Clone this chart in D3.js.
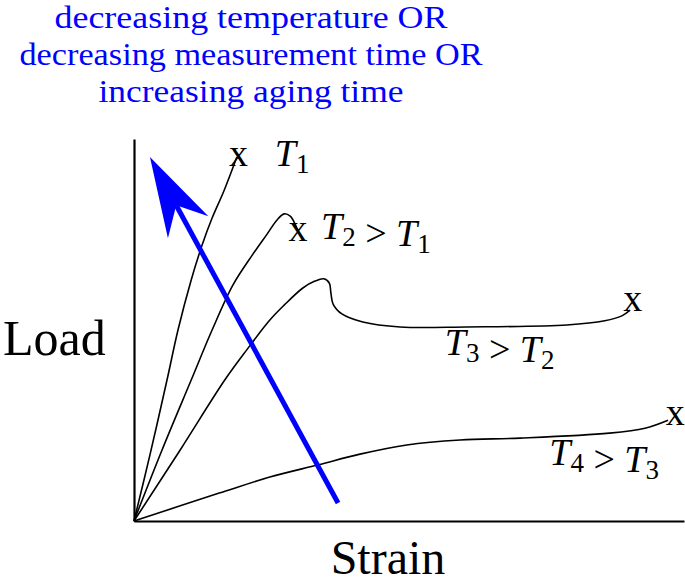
<!DOCTYPE html>
<html>
<head>
<meta charset="utf-8">
<script src="https://cdn.jsdelivr.net/npm/d3@7"></script>
<style>
  body { margin: 0; background: #fff; }
  svg text { font-family: "Liberation Serif", "DejaVu Serif", serif; }
</style>
</head>
<body>
<div class="chart-box"></div>
<script>
let width = 685;
let height = 585;

// curves: [strain, load] in arbitrary units (0..100)
let curveT1 = [[0,0],[2.9,17.3],[6.0,36.9],[8.0,50.0],[10.4,63.1],[12.4,72.3],[14.2,79.3],[16.4,86.6],[18.7,95.3]];
let curveT2 = [[0,0],[5.1,18.6],[10.4,36.9],[14.2,50.0],[18.0,61.8],[21.5,69.6],[24.2,75.1],[26.0,78.8],[27.3,80.4],[28.4,79.8],[29.3,77.7],[29.8,75.7]];
let curveT3 = [[0,0],[8.4,18.6],[16.5,36.9],[20.5,44.8],[24.7,52.6],[27.3,56.5],[30.7,61.0],[32.9,62.8],[34.5,63.4],[35.5,62.3],[35.8,59.7],[36.2,56.8],[37.8,54.2],[41.6,52.1],[48.4,50.8],[60.5,50.8],[78.7,51.3],[85.6,52.4],[88.7,53.7],[90.2,55.2]];
let curveT4 = [[0,0],[15.5,7.3],[24.7,11.5],[33.5,14.7],[41.1,17.5],[49.6,19.9],[59.3,21.2],[70.2,21.7],[86.4,23.0],[92.9,24.3],[97.1,26.4]];

let curves = [curveT1, curveT2, curveT3, curveT4];
let breakMarks = [[19.0,95.3],[29.8,75.7],[90.7,57.3],[98.4,27.5]];

let labelPos = [[25.6,92.9],[34.0,73.8],[56.5,43.5],[75.5,14.7]];
let labelParts = [
  [["T","1"]],
  [["T","2"],[" > ",""],["T","1"]],
  [["T","3"],[" > ",""],["T","2"]],
  [["T","4"],[" > ",""],["T","3"]]
];

let arrowFrom = [37.1, 4.7];
let arrowTo = [2.9, 95.3];

let titleLines = ["decreasing temperature OR", "decreasing measurement time OR", "increasing aging time"];
let titleWidths = [393, 463, 305];
let xLabel = "Strain";
let yLabel = "Load";

let svg = d3.select(".chart-box")
  .append("svg")
  .attr("width", width)
  .attr("height", height);

let x = d3.scaleLinear().domain([0, 100]).range([134, 684]);
let y = d3.scaleLinear().domain([0, 100]).range([521, 139]);

// axes without ticks
svg.append("g")
  .attr("transform", `translate(0,${y(0)})`)
  .call(d3.axisBottom(x).tickValues([]).tickSizeOuter(0))
  .select(".domain").attr("stroke-width", 2.2);

svg.append("g")
  .attr("transform", `translate(${x(0)},0)`)
  .call(d3.axisLeft(y).tickValues([]).tickSizeOuter(0))
  .select(".domain").attr("stroke-width", 2.2);

let line = d3.line()
  .x(d => x(d[0]))
  .y(d => y(d[1]))
  .curve(d3.curveCatmullRom.alpha(0.5));

svg.append("g")
  .selectAll("path")
  .data(curves)
  .enter()
  .append("path")
  .attr("d", line)
  .attr("fill", "none")
  .attr("stroke", "#000")
  .attr("stroke-width", 1.6);

// break markers
svg.append("g")
  .selectAll("text")
  .data(breakMarks)
  .enter()
  .append("text")
  .attr("x", d => x(d[0]))
  .attr("y", d => y(d[1]) + 9)
  .attr("text-anchor", "middle")
  .attr("font-size", 38)
  .text("x");

// curve labels
let labels = svg.append("g")
  .selectAll("text")
  .data(labelParts)
  .enter()
  .append("text")
  .attr("x", (d, i) => x(labelPos[i][0]))
  .attr("y", (d, i) => y(labelPos[i][1]))
  .attr("font-size", 38);

labels.each(function(parts) {
  let t = d3.select(this);
  parts.forEach(p => {
    if (p[1] === "") {
      t.append("tspan").attr("font-style", "normal").text(p[0]);
    } else {
      t.append("tspan").attr("font-style", "italic").text(p[0]);
      t.append("tspan").attr("font-size", 27).attr("dy", 7).text(p[1]);
      t.append("tspan").attr("dy", -7).text("");
    }
  });
});

// blue arrow
let p0 = [x(arrowFrom[0]), y(arrowFrom[1])];
let p1 = [x(arrowTo[0]), y(arrowTo[1])];
let len = Math.hypot(p1[0] - p0[0], p1[1] - p0[1]);
let ux = (p1[0] - p0[0]) / len, uy = (p1[1] - p0[1]) / len;
let headLen = 80, notch = 55, half = 23;
let base = [p1[0] - ux * headLen, p1[1] - uy * headLen];
let notchPt = [p1[0] - ux * notch, p1[1] - uy * notch];

svg.append("line")
  .attr("x1", p0[0]).attr("y1", p0[1])
  .attr("x2", notchPt[0]).attr("y2", notchPt[1])
  .attr("stroke", "#0000ff")
  .attr("stroke-width", 5);

svg.append("path")
  .attr("d", d3.line()([
    p1,
    [base[0] - uy * half, base[1] + ux * half],
    notchPt,
    [base[0] + uy * half, base[1] - ux * half]
  ]) + "Z")
  .attr("fill", "#0000ff");

// title
svg.append("g")
  .selectAll("text")
  .data(titleLines)
  .enter()
  .append("text")
  .attr("x", 251)
  .attr("y", (d, i) => 28 + i * 37)
  .attr("text-anchor", "middle")
  .attr("font-size", 31)
  .attr("textLength", (d, i) => titleWidths[i])
  .attr("lengthAdjust", "spacingAndGlyphs")
  .attr("fill", "#0000ff")
  .text(d => d);

// axis titles
svg.append("text")
  .attr("x", 3)
  .attr("y", 355)
  .attr("font-size", 50)
  .text(yLabel);

svg.append("text")
  .attr("x", 388)
  .attr("y", 574)
  .attr("text-anchor", "middle")
  .attr("font-size", 48)
  .text(xLabel);
</script>
</body>
</html>
